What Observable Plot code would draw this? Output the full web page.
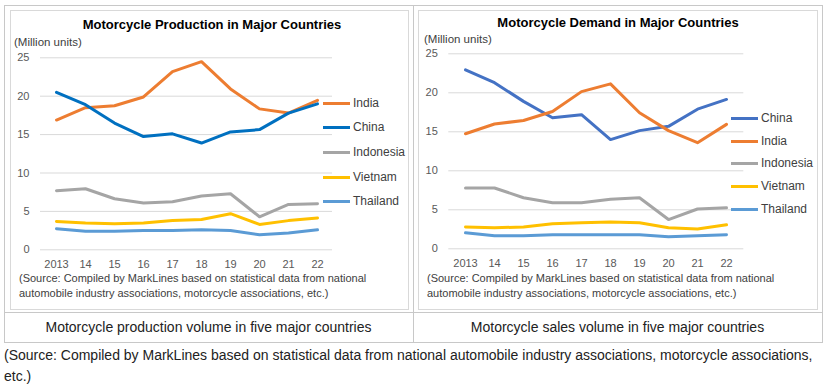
<!DOCTYPE html>
<html><head><meta charset="utf-8">
<script src="https://cdn.jsdelivr.net/npm/d3@7"></script>
<script src="https://cdn.jsdelivr.net/npm/@observablehq/plot@0.6"></script>
<style>
body{margin:0;background:#fff;font-family:"Liberation Sans",Arial,sans-serif;}
#wrap{position:relative;width:829px;height:384px;overflow:hidden;}
.abs{position:absolute;white-space:nowrap;}
.box{position:absolute;box-sizing:border-box;}
.title{font-weight:bold;font-size:13px;color:#000;transform:translateX(-50%);}
.unit{font-size:11.5px;color:#404040;}
.src{font-size:11px;color:#404040;line-height:15px;}
.leg{font-size:12px;color:#404040;line-height:14px;}
.legline{position:absolute;height:3px;}
.cell{font-size:14px;color:#222;transform:translateX(-50%);}
</style></head><body><div id="wrap"></div>
<script>
// ---- data ----
const years = ["2013","14","15","16","17","18","19","20","21","22"];
const yTicks = [0, 5, 10, 15, 20, 25];

// Production (million units)
const prodIndia     = [16.9, 18.5, 18.75, 19.9, 23.2, 24.5, 20.95, 18.35, 17.8, 19.45];
const prodChina     = [20.5, 18.9, 16.5, 14.75, 15.1, 13.9, 15.35, 15.65, 17.8, 19.0];
const prodIndonesia = [7.7, 7.95, 6.65, 6.1, 6.25, 7.0, 7.3, 4.3, 5.9, 6.0];
const prodVietnam   = [3.7, 3.5, 3.4, 3.5, 3.8, 3.95, 4.7, 3.3, 3.8, 4.15];
const prodThailand  = [2.75, 2.4, 2.4, 2.5, 2.5, 2.6, 2.5, 1.95, 2.2, 2.6];

// Demand (million units)
const demChina     = [22.95, 21.3, 18.9, 16.8, 17.2, 14.0, 15.15, 15.7, 17.9, 19.15];
const demIndia     = [14.75, 16.0, 16.45, 17.6, 20.15, 21.15, 17.45, 15.15, 13.6, 15.95];
const demIndonesia = [7.8, 7.8, 6.55, 5.9, 5.9, 6.35, 6.55, 3.75, 5.1, 5.25];
const demVietnam   = [2.8, 2.7, 2.8, 3.2, 3.33, 3.45, 3.33, 2.7, 2.55, 3.08];
const demThailand  = [2.05, 1.67, 1.67, 1.8, 1.8, 1.8, 1.8, 1.55, 1.67, 1.8];

const prodNames = ["India", "China", "Indonesia", "Vietnam", "Thailand"];
const prodColors = ["#ED7D31", "#0070C0", "#A5A5A5", "#FFC000", "#5B9BD5"];
const demNames = ["China", "India", "Indonesia", "Vietnam", "Thailand"];
const demColors = ["#4472C4", "#ED7D31", "#A5A5A5", "#FFC000", "#5B9BD5"];

const prodTitle = "Motorcycle Production in Major Countries";
const demTitle = "Motorcycle Demand in Major Countries";
const unitLabel = "(Million units)";
const srcLines = ["(Source: Compiled by MarkLines based on statistical data from national",
                  "automobile industry associations, motorcycle associations, etc.)"];
const cellLeft = "Motorcycle production volume in five major countries";
const cellRight = "Motorcycle sales volume in five major countries";
const footer = "(Source: Compiled by MarkLines based on statistical data from national automobile industry associations, motorcycle associations, etc.)";

// ---- build ----
const wrap = document.getElementById("wrap");
function el(cls, css, text) {
  const d = document.createElement("div");
  d.className = cls;
  Object.assign(d.style, css);
  if (text != null) d.textContent = text;
  wrap.appendChild(d);
  return d;
}

function rows(names, arrays) {
  const out = [];
  names.forEach((n, k) => years.forEach((y, i) => out.push({country: n, year: y, value: arrays[k][i]})));
  return out;
}

function chart(names, arrays, colors, m) {
  const data = rows(names, arrays);
  return Plot.plot({
    width: 397, height: 298,
    marginLeft: m.l, marginRight: m.r, marginTop: m.t, marginBottom: m.b,
    style: {background: "transparent", fontFamily: "'Liberation Sans', Arial, sans-serif", fontSize: "11px", color: "#595959", overflow: "visible"},
    x: {type: "point", domain: years, padding: 0.5},
    y: {domain: [0, 25]},
    color: {domain: names, range: colors},
    marks: [
      Plot.ruleY(yTicks, {stroke: "#d9d9d9", strokeWidth: 1}),
      Plot.axisY({ticks: yTicks, tickSize: 0, tickPadding: 11, label: null, fill: "#595959"}),
      Plot.axisX({tickSize: 0, tickPadding: m.xp, label: null, fill: "#595959"}),
      ...names.map(n => Plot.line(data.filter(d => d.country === n), {
        x: "year", y: "value", stroke: "country", strokeWidth: 3,
        strokeLinejoin: "round", strokeLinecap: "round"
      }))
    ]
  });
}

// table frame
el("box", {left: "4px", top: "5px", width: "819px", height: "338px", border: "1px solid #c8c8c8"});
el("box", {left: "413px", top: "5px", width: "1px", height: "338px", background: "#c8c8c8"});
el("box", {left: "4px", top: "312px", width: "819px", height: "1px", background: "#c8c8c8"});
// image frames
el("box", {left: "10px", top: "10px", width: "399px", height: "300px", border: "1px solid #d9d9d9"});
el("box", {left: "418px", top: "10px", width: "400px", height: "300px", border: "1px solid #d9d9d9"});

// charts
const c1 = chart(prodNames, [prodIndia, prodChina, prodIndonesia, prodVietnam, prodThailand], prodColors,
  {l: 29, r: 76, t: 46.3, b: 59.7, xp: 10});
c1.style.position = "absolute"; c1.style.left = "11px"; c1.style.top = "11px";
wrap.appendChild(c1);
const c2 = chart(demNames, [demChina, demIndia, demIndonesia, demVietnam, demThailand], demColors,
  {l: 29.3, r: 72.7, t: 42.3, b: 60.7, xp: 10});
c2.style.position = "absolute"; c2.style.left = "419px"; c2.style.top = "11px";
wrap.appendChild(c2);

// titles & labels
el("abs title", {left: "212px", top: "17px"}, prodTitle);
el("abs title", {left: "618px", top: "15px"}, demTitle);
el("abs unit", {left: "14px", top: "36px"}, unitLabel);
el("abs unit", {left: "424px", top: "33px"}, unitLabel);
el("abs src", {left: "19px", top: "271px"}, srcLines[0] + "\n");
el("abs src", {left: "19px", top: "286px"}, srcLines[1]);
el("abs src", {left: "427px", top: "271px"}, srcLines[0]);
el("abs src", {left: "427px", top: "286px"}, srcLines[1]);

// legends
const legL = [103, 127, 152, 177, 201];
prodNames.forEach((n, i) => {
  el("legline", {left: "323px", width: "27px", top: (legL[i] - 1.5) + "px", background: prodColors[i]});
  el("abs leg", {left: "353px", top: (legL[i] - 7) + "px"}, n);
});
const legR = [118, 141, 163, 186, 209];
demNames.forEach((n, i) => {
  el("legline", {left: "731px", width: "27px", top: (legR[i] - 1.5) + "px", background: demColors[i]});
  el("abs leg", {left: "761px", top: (legR[i] - 7) + "px"}, n);
});

// table cells text
el("abs cell", {left: "208.5px", top: "319px"}, cellLeft);
el("abs cell", {left: "617.5px", top: "319px"}, cellRight);

// footer
const f = el("", {position: "absolute", left: "4px", top: "345px", width: "822px", fontSize: "14px", lineHeight: "21px", color: "#222"}, footer);
</script></body></html>
